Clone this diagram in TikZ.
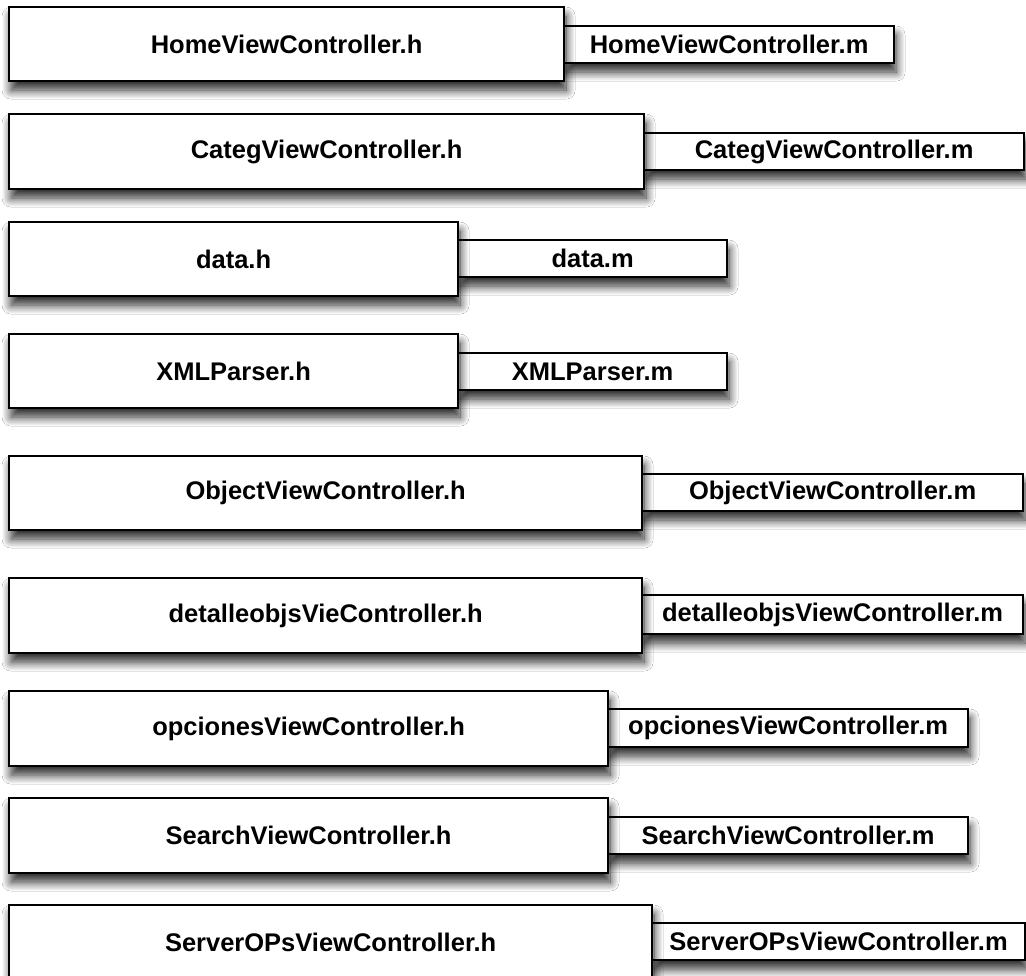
\documentclass[tikz,border=0pt]{standalone}
\usepackage{fontspec}
\setmainfont{Liberation Sans}
\usetikzlibrary{shadows.blur}

\begin{document}
\begin{tikzpicture}[x=1pt, y=-1pt, line width=2.2pt,
  file/.style = {draw=black, fill=white, anchor=north west, inner sep=0pt,
    font=\fontsize{25.5}{30}\selectfont\bfseries,
    blur shadow={shadow xshift=2pt, shadow yshift=-9pt, shadow blur radius=9pt, shadow opacity=85, shadow blur steps=12}},
  hfile/.style = {file, minimum height=74},
  mfile/.style = {file, minimum height=37}]
\useasboundingbox[fill=white] (0,0) rectangle (1026,976);

% implementation files first, headers drawn over them
\node[mfile, minimum width=330] (homeM) at (563,25) {HomeViewController.m};
\node[mfile, minimum width=380] (categM) at (643,132) {CategViewController.m};
\node[mfile, minimum width=269] (dataM) at (457,239) {data.m};
\node[mfile, minimum width=269] (xmlM) at (457,352) {XMLParser.m};
\node[mfile, minimum width=381] (objectM) at (641,473) {ObjectViewController.m};
\node[mfile, minimum width=381, minimum height=39] (detalleM) at (641,594) {detalleobjsViewController.m};
\node[mfile, minimum width=360, minimum height=38] (opcionesM) at (607,708) {opcionesViewController.m};
\node[mfile, minimum width=360] (searchM) at (607,816) {SearchViewController.m};
\node[mfile, minimum width=373] (serverM) at (651,922) {ServerOPsViewController.m};

\node[hfile, minimum width=555] (homeH) at (8,6) {HomeViewController.h};
\node[hfile, minimum width=635, minimum height=75] (categH) at (8,113) {CategViewController.h};
\node[hfile, minimum width=449] (dataH) at (8,221) {data.h};
\node[hfile, minimum width=449] (xmlH) at (8,333) {XMLParser.h};
\node[hfile, minimum width=633] (objectH) at (8,455) {ObjectViewController.h};
\node[hfile, minimum width=633, minimum height=75] (detalleH) at (8,577) {detalleobjsVieController.h};
\node[hfile, minimum width=599, minimum height=75] (opcionesH) at (8,690) {opcionesViewController.h};
\node[hfile, minimum width=599, minimum height=75] (searchH) at (8,797) {SearchViewController.h};
\node[hfile, minimum width=643, minimum height=75] (serverH) at (8,904) {ServerOPsViewController.h};

\end{tikzpicture}
\end{document}
